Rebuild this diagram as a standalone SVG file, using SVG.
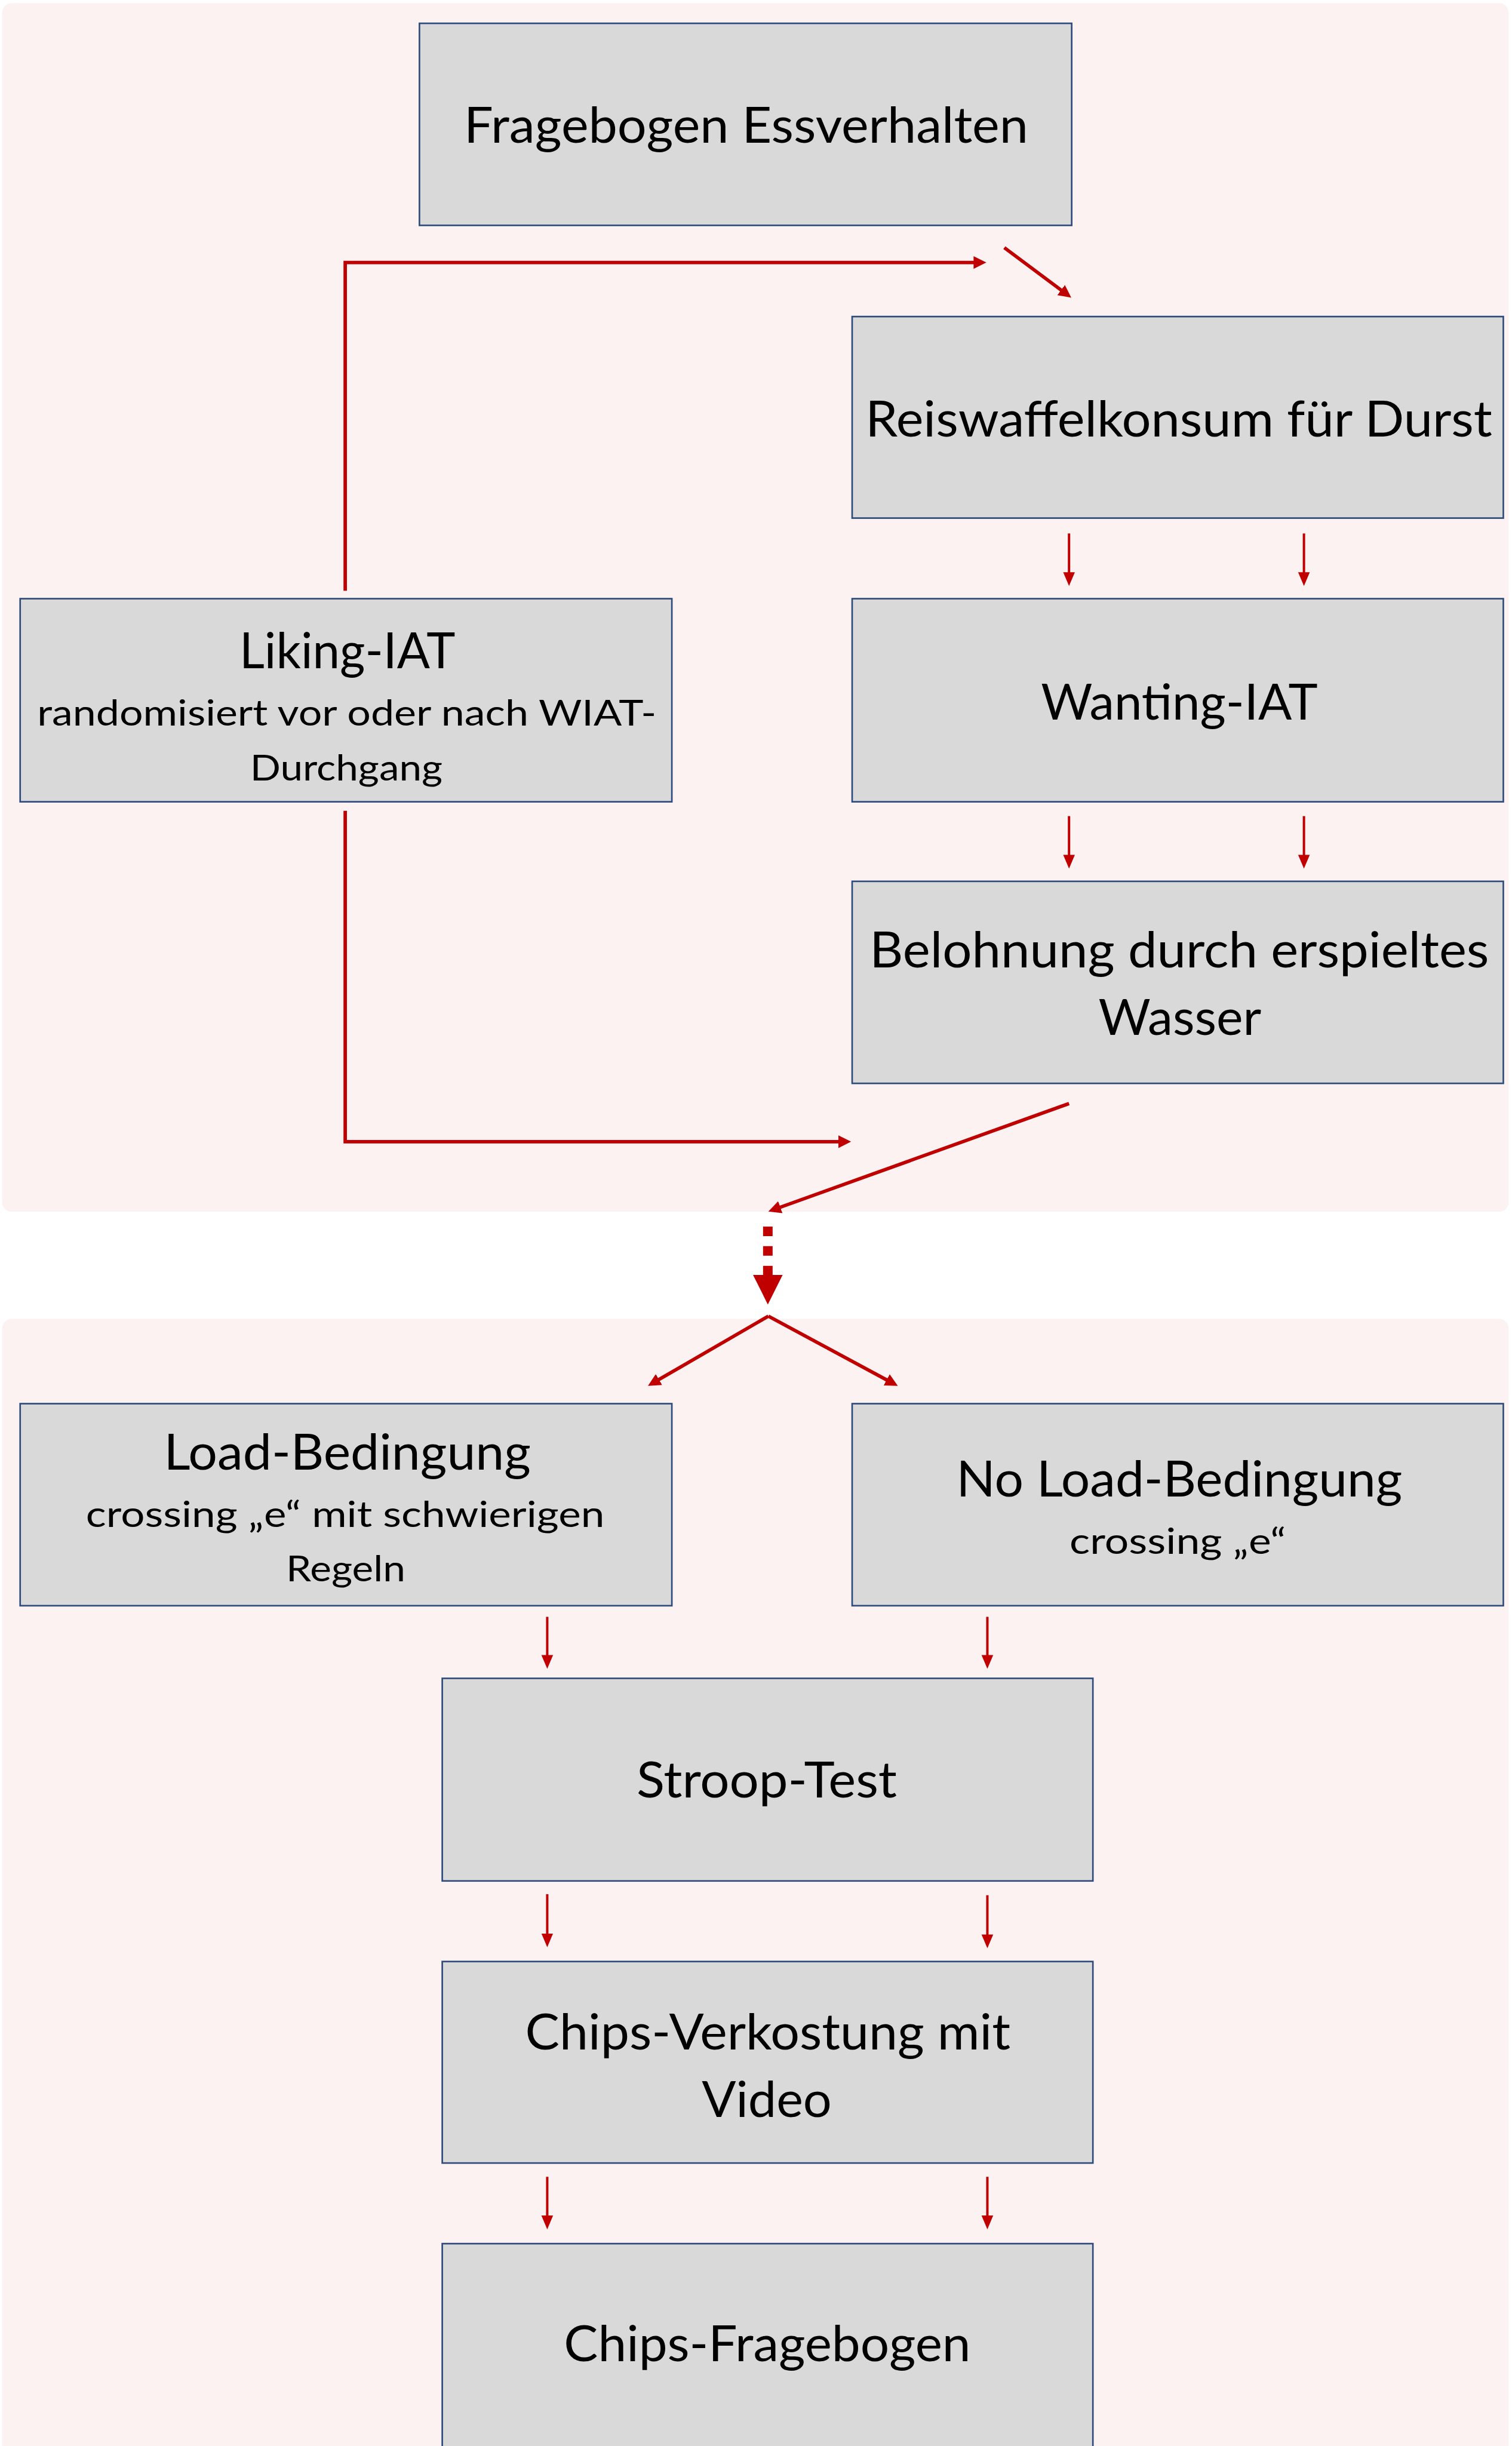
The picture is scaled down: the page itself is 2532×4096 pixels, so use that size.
<svg xmlns="http://www.w3.org/2000/svg" width="2532" height="4096" viewBox="0 0 2532 4096">
<defs>
<style>
.panel{fill:#FBF2F1;stroke:none}
.box{fill:#D9D9D9;stroke:#2F4B7C;stroke-width:3}
.t{font-family:Lato,Carlito,"Liberation Sans",sans-serif;font-size:94px;fill:#000;text-anchor:middle}
.s{font-size:68px}
.thin{fill:none;stroke:#C00000;stroke-width:4.5;marker-end:url(#hThin)}
.thick{fill:none;stroke:#C00000;stroke-width:6.5;marker-end:url(#hThick)}
.dash{fill:none;stroke:#C00000;stroke-width:18;stroke-dasharray:18 19;marker-end:url(#hBig)}
</style>
<marker id="hThin" markerUnits="userSpaceOnUse" viewBox="0 -14 28 28" refX="1" refY="0" markerWidth="28" markerHeight="28" orient="auto"><path d="M0,-11 L26,0 L0,11 z" fill="#C00000"/></marker>
<marker id="hThick" markerUnits="userSpaceOnUse" viewBox="0 -14 28 28" refX="1" refY="0" markerWidth="28" markerHeight="28" orient="auto"><path d="M0,-12 L24,0 L0,12 z" fill="#C00000"/></marker>
<marker id="hBig" markerUnits="userSpaceOnUse" viewBox="0 -30 60 60" refX="1" refY="0" markerWidth="60" markerHeight="60" orient="auto"><path d="M0,-28 L56,0 L0,28 z" fill="#C00000"/></marker>
</defs>
<rect width="2532" height="4096" fill="#FFFFFF"/>
<g transform="scale(0.888)">
<g id="panels">
<rect class="panel" x="4" y="6" width="2841" height="2279" rx="18"/>
<rect class="panel" x="4" y="2487" width="2841" height="2160" rx="18"/>
</g>
<g id="connectors">
<path class="thick" d="M651,1114 V495 H1837"/>
<path class="thick" d="M1894,467 L2001.8,547.6"/>
<path class="thin" d="M2016,1006 V1080"/>
<path class="thin" d="M2459,1006 V1080"/>
<path class="thin" d="M2016,1539 V1613"/>
<path class="thin" d="M2459,1539 V1613"/>
<path class="thick" d="M651,1529 V2153 H1582"/>
<path class="thick" d="M2016,2081 L1470.6,2276.9"/>
<path class="dash" d="M1448,2313 V2405"/>
<path class="thick" d="M1449,2482 L1241.8,2602"/>
<path class="thick" d="M1449,2482 L1672.9,2602.6"/>
<path class="thin" d="M1032,3049 V3122"/>
<path class="thin" d="M1862,3049 V3122"/>
<path class="thin" d="M1032,3572 V3647"/>
<path class="thin" d="M1862,3574 V3649"/>
<path class="thin" d="M1032,4105 V4179"/>
<path class="thin" d="M1862,4105 V4179"/>
</g>
<g id="n-fragebogen">
<rect class="box" x="791" y="44" width="1230" height="381"/>
<text class="t" x="1407" y="269" textLength="1064" lengthAdjust="spacingAndGlyphs">Fragebogen Essverhalten</text>
</g>
<g id="n-reiswaffel">
<rect class="box" x="1607" y="597" width="1228" height="380"/>
<text class="t" x="2223" y="823" textLength="1182" lengthAdjust="spacingAndGlyphs">Reiswaffelkonsum für Durst</text>
</g>
<g id="n-liking">
<rect class="box" x="38" y="1129" width="1229" height="383"/>
<text class="t" x="655" y="1260" textLength="407" lengthAdjust="spacingAndGlyphs">Liking-IAT</text>
<text class="t s" x="654" y="1368" textLength="1168" lengthAdjust="spacingAndGlyphs">randomisiert vor oder nach WIAT-</text>
<text class="t s" x="653" y="1472" textLength="363" lengthAdjust="spacingAndGlyphs">Durchgang</text>
</g>
<g id="n-wanting">
<rect class="box" x="1607" y="1129" width="1228" height="383"/>
<text class="t" x="2224" y="1357" textLength="522" lengthAdjust="spacingAndGlyphs">Wanting-IAT</text>
</g>
<g id="n-belohnung">
<rect class="box" x="1607" y="1662" width="1228" height="381"/>
<text class="t" x="2224" y="1824" textLength="1168" lengthAdjust="spacingAndGlyphs">Belohnung durch erspieltes</text>
<text class="t" x="2225" y="1952" textLength="307" lengthAdjust="spacingAndGlyphs">Wasser</text>
</g>
<g id="n-load">
<rect class="box" x="38" y="2647" width="1229" height="381"/>
<text class="t" x="655" y="2771" textLength="692" lengthAdjust="spacingAndGlyphs">Load-Bedingung</text>
<text class="t s" x="651" y="2880" textLength="978" lengthAdjust="spacingAndGlyphs">crossing „e“ mit schwierigen</text>
<text class="t s" x="652" y="2982" textLength="225" lengthAdjust="spacingAndGlyphs">Regeln</text>
</g>
<g id="n-noload">
<rect class="box" x="1607" y="2647" width="1228" height="381"/>
<text class="t" x="2224" y="2822" textLength="841" lengthAdjust="spacingAndGlyphs">No Load-Bedingung</text>
<text class="t s" x="2221" y="2930" textLength="408" lengthAdjust="spacingAndGlyphs">crossing „e“</text>
</g>
<g id="n-stroop">
<rect class="box" x="834" y="3165" width="1227" height="382"/>
<text class="t" x="1446" y="3390" textLength="491" lengthAdjust="spacingAndGlyphs">Stroop-Test</text>
</g>
<g id="n-chipsverkostung">
<rect class="box" x="834" y="3699" width="1227" height="380"/>
<text class="t" x="1448" y="3865" textLength="915" lengthAdjust="spacingAndGlyphs">Chips-Verkostung mit</text>
<text class="t" x="1446" y="3992" textLength="245" lengthAdjust="spacingAndGlyphs">Video</text>
</g>
<g id="n-chipsfragebogen">
<rect class="box" x="834" y="4231" width="1227" height="400"/>
<text class="t" x="1447" y="4453" textLength="767" lengthAdjust="spacingAndGlyphs">Chips-Fragebogen</text>
</g>
</g>
</svg>
